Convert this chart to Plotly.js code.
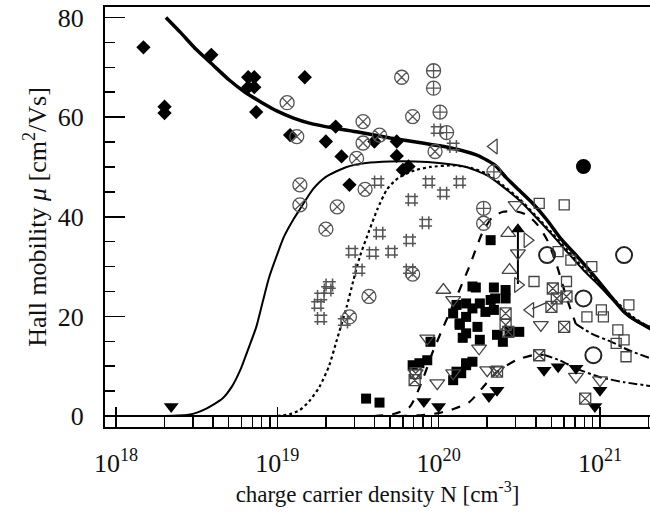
<!DOCTYPE html>
<html><head><meta charset="utf-8">
<script src="https://cdn.plot.ly/plotly-3.0.1.min.js"></script>
<style>body{margin:0;background:#fff}#chart{width:650px;height:516px}</style>
</head><body><div id="chart"></div>
<script>
// ---- model curves ----
const thickN  = [2.04e18,2.51e18,3.16e18,3.98e18,5.01e18,6.31e18,7.94e18,1e19,1.26e19,1.58e19,2.24e19,3.16e19,5.01e19,7.94e19,1.12e20,1.58e20,1.78e20,2.24e20,2.63e20,3.16e20,3.8e20,4.68e20,5.75e20,7.24e20,9.33e20,1.175e21,1.41e21,1.66e21,2.09e21];
const thickMu = [80,77,73.5,70.5,67.5,65,63,61.2,59.8,58.8,57.8,57,55.8,54.8,54,52.8,52.2,50.3,47.8,45.3,42.8,39.4,35.5,32,27.9,23.9,20.9,19.2,17.6];
const thinN  = [2e18,2.88e18,3.63e18,4.57e18,5.25e18,5.89e18,6.61e18,7.41e18,8.13e18,8.91e18,1e19,1.1e19,1.26e19,1.38e19,1.66e19,2e19,2.69e19,3.55e19,5.01e19,7.08e19,1e20,1.48e20,2e20,2.51e20,3.16e20,3.98e20,5.01e20,6.31e20,7.94e20,1e21,1.26e21,1.58e21,2.09e21];
const thinMu = [0,0.3,1.5,3.5,6,9.2,13.5,17.9,23,27.9,32.5,36,39.5,41.5,45.5,48,50,50.8,51.1,51.1,50.8,50,48.3,46,43.3,40,36.5,32.8,29.2,26,22.6,19.6,17.2];
const dotN  = [1e19,1.2e19,1.38e19,1.58e19,1.82e19,2.09e19,2.34e19,2.69e19,2.95e19,3.24e19,3.72e19,4.17e19,4.79e19,5.62e19,7.08e19,8.91e19,1.26e20,1.58e20,2e20,2.51e20,3.16e20,3.98e20,5.01e20,6.31e20,7.94e20,1e21,1.26e21,1.58e21,2.09e21];
const dotMu = [0,0.4,1.2,3,5.8,10,15.3,21.9,27,31.9,37.3,41.5,45.5,47.8,49.3,50,50.3,49.8,48.6,46.3,43.6,40.3,36.8,33.2,29.6,26.3,23,20,17.5];
const dashUpN  = [3.98e19,5.25e19,6.61e19,7.94e19,9.12e19,1.07e20,1.29e20,1.55e20,1.86e20,2.14e20,2.51e20,3.09e20,3.55e20,4.07e20,4.68e20,5.37e20,6.17e20,7.08e20];
const dashUpMu = [0,0.4,1.8,7.2,12.6,17.9,23.9,30,36.7,39.8,41,41,40.3,38.5,35.5,30.5,24,18.5];
const dashDotUpN  = [7.08e20,8.91e20,1.175e21,1.51e21,2.09e21];
const dashDotUpMu = [18.5,16.5,14.9,13.2,11.5];
const dashLowN  = [5.62e19,7.94e19,1e20,1.26e20,1.55e20,1.86e20,2.29e20,3.02e20,3.8e20,4.47e20];
const dashLowMu = [0,0.2,0.6,1.5,2.8,5.6,8.8,11.2,12.2,12.3];
const dashDotLowN  = [4.47e20,5.62e20,7.08e20,1e21,1.41e21,2.09e21];
const dashDotLowMu = [12.3,11.2,9.6,7.8,6.8,6];
// ---- arrows (line segments) ----
const arrowUpN = [3.1e20,3.1e20];
const arrowUpMu = [26.5,37];
const arrowLeftN = [3.8e20,4.7e20];
const arrowLeftMu = [21.5,22.8];
// ---- measured points ----
const diamondN  = [1.48e18,2.0e18,2.0e18,3.9e18,6.6e18,7.2e18,6.6e18,7.2e18,7.4e18,1.48e19,1.2e19,2.3e19,2.0e19,2.5e19,4.0e19,5.5e19,5.5e19,6.0e19,6.5e19,2.8e19];
const diamondMu = [74,62.1,60.8,72.5,68,68,66,66,61,68,56.4,58.1,55.1,52.1,55.1,55.1,52.2,49.4,50.1,46.4];
const cxN  = [1.15e19,1.32e19,1.38e19,1.38e19,5.9e19,3.4e19,6.9e19,4.3e19,3.4e19,3.1e19,9.5e19,3.5e19,2.35e19,2.0e19,3.7e19,2.8e19,6.9e19,1.9e20];
const cxMu = [62.9,56.1,46.4,42.4,68,59.1,60.1,56.4,54.8,51.7,53.1,45.5,42.0,37.5,24,19.9,28.5,38.7];
const cpN  = [9.3e19,9.3e19,1.02e20,1.12e20,1.9e20,2.2e20];
const cpMu = [69.3,65.8,61,56.9,41.7,49];
const hashN  = [9.8e19,1.23e20,4.2e19,8.7e19,1.35e20,6.8e19,1.07e20,8.3e19,4.3e19,6.6e19,2.9e19,3.9e19,5.1e19,3.2e19,6.6e19,2.1e19,2.05e19,1.86e19,1.78e19,1.86e19,2.6e19];
const hashMu = [57.4,54.1,47,47,47,43.4,44.7,38.8,36.7,35.3,33,32.7,33,29.3,29.3,26.3,25.3,24,22.3,19.6,18.9];
const fsqN  = [3.55e19,4.3e19,6.9e19,7.6e19,8.5e19,8.9e19,1.7e20,2.2e20,1.48e20,1.8e20,1.23e20,1.48e20,1.35e20,1.74e20,1.48e20,1.8e20,2.1e20,1.48e20,1.23e20,1.38e20,2.2e20,2.1e20,1.29e20,1.62e20,2.24e20,2.6e20,1.95e20,1.35e20,2.3e20,2.75e20,3.16e20,2.5e20,1.29e20,1.48e20,1.62e20,1.62e20,2.6e20,1.41e20];
const fsqMu = [3.5,2.7,10.2,10.6,11.2,14.9,25.8,25.8,22.6,22.6,20.6,19.9,18.6,17.9,16.6,15.3,35.3,10.6,7.2,8.6,21.3,23.3,22.3,21.6,23.6,23.6,20.9,18.3,16.3,16.9,16.9,14.9,8.9,10.2,10.9,26,25.3,15.7];
const tdOpenN  = [8.5e19,1.23e20,1.78e20,9.8e19,1.23e20,2.0e20,7.2e19,2.3e20,4.3e20,3.0e20,7.1e20,1.0e21,3.1e20];
const tdOpenMu = [15.6,23.3,13.6,6.6,8.6,9.2,8.6,9.2,18.3,42.4,7.9,7.2,32.7];
const tdFillN  = [2.2e18,8.1e19,1.0e20,2.05e20,2.3e20,4.5e20,5.5e20,7.1e20,1.0e21,9.3e20];
const tdFillMu = [1.9,2.9,1.9,3.9,5.2,9.2,9.9,9.6,5.2,1.9];
const tuOpenN  = [1.07e20,2.7e20,2.75e20];
const tuOpenMu = [25.3,36.7,29.3];
const tuFillN  = [3.1e20];
const tuFillMu = [37.5];
const tlN  = [2.2e20,3.7e20];
const tlMu = [54.1,21.3];
const trN  = [3.55e20,3.1e20];
const trMu = [35.3,26.3];
const fcN  = [7.9e20];
const fcMu = [50.1];
const osqN  = [6.0e20,4.2e20,8.9e20,5.5e20,6.6e20,3.9e20,6.2e20,1.51e21,1.02e21,8.3e20,1.05e21,1.29e21,1.41e21,1.26e21,1.45e21];
const osqMu = [42.4,42.7,30,33,31.3,27,27,22.3,21.3,19.9,19.9,17.3,15.3,14.6,11.9];
const sxN  = [7.2e19,7.1e19,5.1e20,5.4e20,6.2e20,5.0e20,6.0e20,2.6e20,2.6e20,2.7e20,2.3e20,4.2e20,8.1e20];
const sxMu = [8.6,7.2,25.6,23.6,24,21.9,17.9,20.6,18.3,16.9,8.9,12.2,3.5];
const ocN  = [4.7e20,1.41e21,7.9e20,9.1e20];
const ocMu = [32.3,32.3,23.6,12.2];
// ---- ticks ----
const xTickVals = [1e18,1e19,1e20,1e21];
const xTickText = ['10<sup>18</sup>','10<sup>19</sup>','10<sup>20</sup>','10<sup>21</sup>'];
const xMinorVals = [2e18,3e18,4e18,5e18,6e18,7e18,8e18,9e18,2e19,3e19,4e19,5e19,6e19,7e19,8e19,9e19,2e20,3e20,4e20,5e20,6e20,7e20,8e20,9e20,2e21];
const yTickVals = [0,20,40,60,80];

function line(x,y,w,dash){return {x:x,y:y,mode:'lines',line:{color:'#000',width:w,dash:dash,shape:'spline',smoothing:0.6},hoverinfo:'skip'};}
function pts(x,y,sym,size,col,lw){return {x:x,y:y,mode:'markers',marker:{symbol:sym,size:size,color:col,line:{color:col,width:lw}}};}

const data = [
  line(thinN,thinMu,2,'solid'),
  line(dotN,dotMu,2.2,'dot'),
  line(dashUpN,dashUpMu,2.2,'dash'),
  line(dashDotUpN,dashDotUpMu,2,'dashdot'),
  line(dashLowN,dashLowMu,2.2,'dash'),
  line(dashDotLowN,dashDotLowMu,2,'dashdot'),
  line(thickN,thickMu,3.5,'solid'),
  {x:arrowUpN,y:arrowUpMu,mode:'lines',line:{color:'#000',width:2}},
  {x:arrowLeftN,y:arrowLeftMu,mode:'lines',line:{color:'#333',width:1.3}},
  pts(diamondN,diamondMu,'diamond',11,'#000',0),
  pts(cxN,cxMu,'circle-x-open',14,'#555',1.3),
  pts(cpN,cpMu,'circle-cross-open',14,'#555',1.3),
  pts(hashN,hashMu,'hash-open',13,'#555',1.5),
  pts(fsqN,fsqMu,'square',10,'#000',0),
  pts(tdOpenN,tdOpenMu,'triangle-down-open',13,'#444',1.3),
  pts(tdFillN,tdFillMu,'triangle-down',13,'#000',0),
  pts(tuOpenN,tuOpenMu,'triangle-up-open',13,'#444',1.3),
  pts(tuFillN,tuFillMu,'triangle-up',12,'#000',0),
  pts(tlN,tlMu,'triangle-left-open',13,'#444',1.3),
  pts(trN,trMu,'triangle-right-open',13,'#444',1.3),
  pts(fcN,fcMu,'circle',15,'#000',0),
  pts(osqN,osqMu,'square-open',10,'#444',1.3),
  pts(sxN,sxMu,'square-x-open',11,'#444',1.3),
  pts(ocN,ocMu,'circle-open',16,'#222',2)
];

const layout = {
  width:650, height:516,
  margin:{l:105,r:0,t:7,b:89},
  showlegend:false,
  paper_bgcolor:'#fff', plot_bgcolor:'#fff',
  font:{family:'"Liberation Serif", "Times New Roman", serif',color:'#111',size:23},
  xaxis:{type:'log',range:[17.932,21.31],showgrid:false,zeroline:false,
    showline:true,linecolor:'#000',linewidth:2,mirror:true,
    ticks:'inside',ticklen:20,tickwidth:1.5,tickcolor:'#000',
    tickmode:'array',tickvals:xTickVals,ticktext:xTickText,ticklabelstandoff:12,
    tickfont:{size:26},
    minor:{ticks:'inside',ticklen:10,tickwidth:1.5,tickcolor:'#000',tickmode:'array',tickvals:xMinorVals,showgrid:false},
    title:{text:'charge carrier density N [cm<sup>-3</sup>]',font:{size:23},standoff:2}},
  yaxis:{range:[-2.2,82.1],showgrid:false,zeroline:true,zerolinecolor:'#000',zerolinewidth:1.5,
    showline:true,linecolor:'#000',linewidth:2,
    ticks:'inside',ticklen:20,tickwidth:1.5,tickcolor:'#000',
    tickmode:'array',tickvals:yTickVals,ticklabelstandoff:14,tickfont:{size:26},
    minor:{ticks:'inside',ticklen:10,tickwidth:1.5,tickcolor:'#000',dtick:5,showgrid:false},
    title:{text:'Hall mobility <i>μ</i> [cm<sup>2</sup>/Vs]',font:{size:26},standoff:4}}
};
Plotly.newPlot('chart',data,layout,{displayModeBar:false,staticPlot:true});
</script></body></html>
